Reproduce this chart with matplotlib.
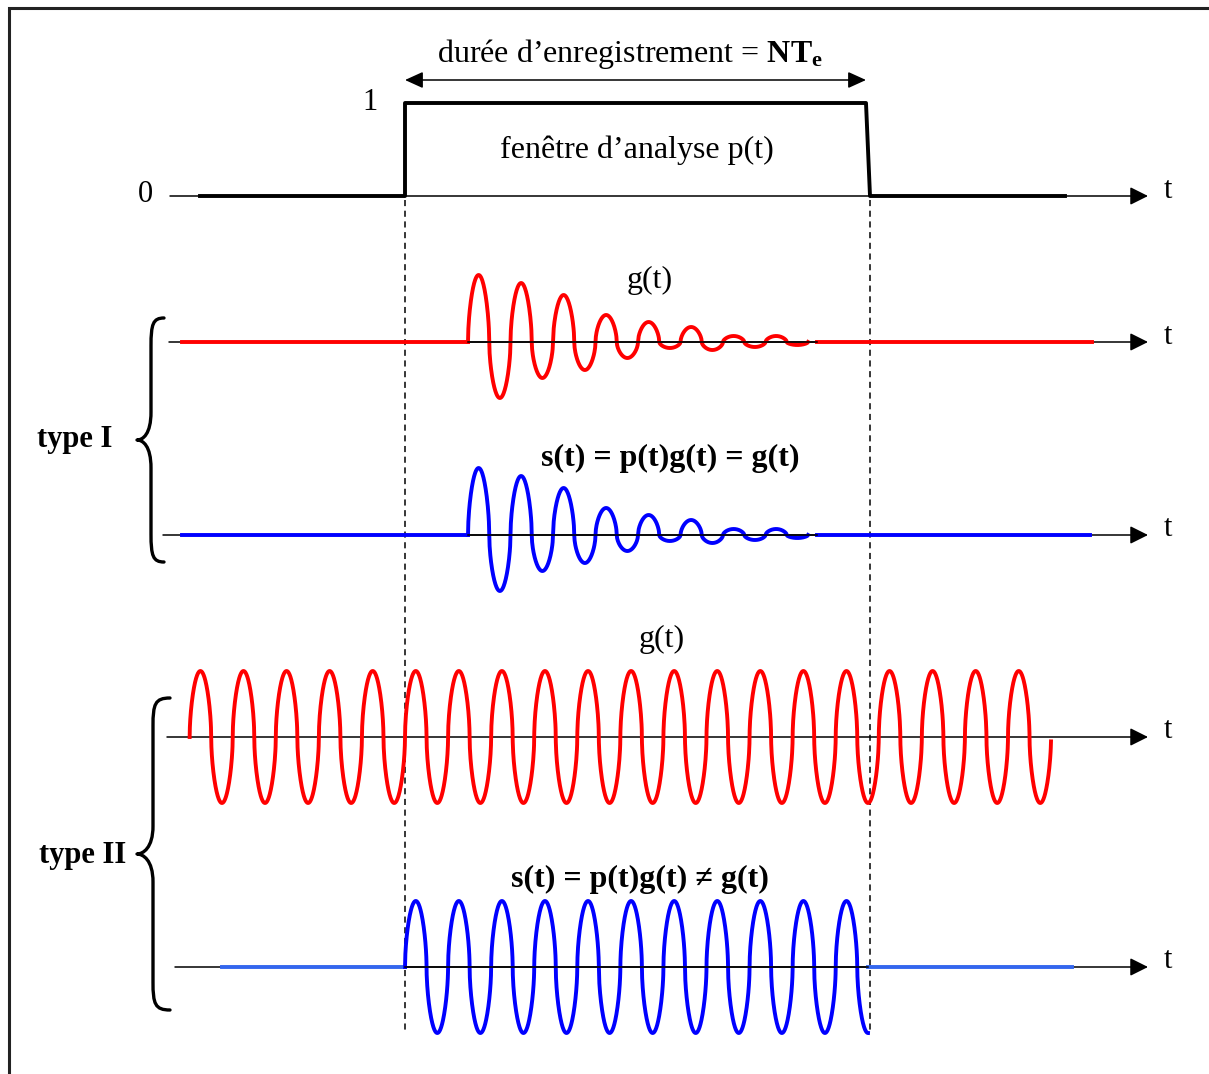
import numpy as np
import matplotlib.pyplot as plt
from matplotlib.path import Path
from matplotlib.patches import PathPatch, FancyArrowPatch

plt.rcParams["font.family"] = ["Liberation Serif", "DejaVu Serif"]
plt.rcParams["mathtext.fontset"] = "custom"
plt.rcParams["mathtext.rm"] = "Liberation Serif"
plt.rcParams["mathtext.bf"] = "Liberation Serif:bold"

W, H = 1209, 1074

# analysis window p(t): time points and levels
win_t = [200, 405, 405, 866, 870, 1065]
win_p = [0, 0, 1, 1, 0, 0]
win_height = 93

# type I: transient g(t), one extremum amplitude per half-cycle
g1_start, g1_end = 468, 817
g1_half = 21.25
g1_amp = [67, 56, 59, 36, 47, 28, 27, 16, 20, 6, 15, 8, 6, 5, 6, 3]
g1_flat_red = [(182, 468), (817, 1092)]
g1_flat_blue = [(182, 468), (817, 1090)]

# type II: permanent g(t)
g2_start, g2_end = 189.65, 1051
g2_period = 43.07
g2_amp = 66
s2_start, s2_end = 405, 868
s2_flat = [(222, 405), (868, 1072)]

# baselines of the five rows and start of their time axes
rows_y = [196, 342, 535, 737, 967]
rows_x0 = [170, 169, 163, 167, 175]
axis_end = 1148

RED = "#ff0000"
BLUE = "#0000ff"
BLUE_FLAT = "#3366ee"
LOBE = 0.55  # roundness of the hand-drawn lobes
SIG_LW = 2.8


def shape(s):
    return np.sign(s) * np.abs(s) ** LOBE


def damped(t0, half, amps, n=60):
    xs, ys = [], []
    for k, a in enumerate(amps):
        x = np.linspace(t0 + k * half, t0 + (k + 1) * half, n)
        sign = 1 if k % 2 == 0 else -1
        xs.append(x)
        ys.append(sign * a * shape(np.sin(np.pi * (x - x[0]) / half)))
    return np.concatenate(xs), np.concatenate(ys)


def brace(ax, xt, xv, xe, yt, yb, r=28):
    ym = (yt + yb) / 2
    verts = [
        (xe, yt), (xv + 2, yt), (xv, yt + 6), (xv, yt + r),
        (xv, ym - r),
        (xv, ym - 6), (xt + 6, ym), (xt, ym),
        (xt + 6, ym), (xv, ym + 6), (xv, ym + r),
        (xv, yb - r),
        (xv, yb - 6), (xv + 2, yb), (xe, yb),
    ]
    codes = [Path.MOVETO, Path.CURVE4, Path.CURVE4, Path.CURVE4, Path.LINETO,
             Path.CURVE4, Path.CURVE4, Path.CURVE4,
             Path.CURVE4, Path.CURVE4, Path.CURVE4, Path.LINETO,
             Path.CURVE4, Path.CURVE4, Path.CURVE4]
    ax.add_patch(PathPatch(Path(verts, codes), fill=False, lw=2.4, color="black",
                           capstyle="round", joinstyle="round"))


fig = plt.figure(figsize=(W / 100, H / 100), dpi=100)
ax = fig.add_axes([0, 0, 1, 1])
ax.set_xlim(0, W)
ax.set_ylim(H, 0)
ax.axis("off")

# frame
ax.plot([9, 9, W], [H, 8, 8], color="#222222", lw=2.2, solid_joinstyle="miter")

# time axes with arrows
for y, x0 in zip(rows_y, rows_x0):
    ax.add_patch(FancyArrowPatch((x0, y), (axis_end, y),
                                 arrowstyle="-|>,head_length=1.1,head_width=0.55",
                                 mutation_scale=10, color="black", lw=1.1,
                                 shrinkA=0, shrinkB=0, zorder=2))
    ax.text(1168, y - 6, "t", fontsize=22, ha="center", va="center")

# window p(t)
ax.plot(win_t, rows_y[0] - win_height * np.array(win_p), color="black", lw=2.8, zorder=3)
ax.text(145, rows_y[0] - 2, "0", fontsize=22, ha="center", va="center")
ax.text(370, rows_y[0] - win_height - 1, "1", fontsize=22, ha="center", va="center")
ax.text(637, 150, "fenêtre d’analyse p(t)", fontsize=23, ha="center", va="center")

# recording duration
ax.add_patch(FancyArrowPatch((405, 80), (866, 80),
                             arrowstyle="<|-|>,head_length=1.1,head_width=0.5",
                             mutation_scale=10, color="black", lw=1.1,
                             shrinkA=0, shrinkB=0))
ax.text(630, 54, r"durée d’enregistrement = $\mathbf{NT_e}$", fontsize=23,
        ha="center", va="center")

# window edges (dashed)
for x, yb in [(405, 1030), (870, 1032)]:
    ax.plot([x, x], [200, yb], color="black", lw=1.1, dashes=(4, 3))

# type I
xd, yd = damped(g1_start, g1_half, g1_amp)
for y0, color, flats in [(rows_y[1], RED, g1_flat_red), (rows_y[2], BLUE, g1_flat_blue)]:
    for a, b in flats:
        ax.plot([a, b], [y0, y0], color=color, lw=SIG_LW, zorder=3)
    ax.plot(xd, y0 - yd, color=color, lw=SIG_LW, zorder=3)
    ax.plot([g1_start, g1_end], [y0, y0], color="black", lw=1.1, zorder=4)

ax.text(650, 280, "g(t)", fontsize=23, ha="center", va="center")
ax.text(670, 458, "s(t) = p(t)g(t) = g(t)", fontsize=23, fontweight="bold",
        ha="center", va="center")
ax.text(75, 439, "type I", fontsize=22, fontweight="bold", ha="center", va="center")
brace(ax, 137, 151, 164, 318, 562)

# type II
x2 = np.linspace(g2_start, g2_end, 4000)
y2 = g2_amp * shape(np.sin(2 * np.pi * (x2 - g2_start) / g2_period))
ax.plot(x2, rows_y[3] - y2, color=RED, lw=SIG_LW, zorder=3)

xs = np.linspace(s2_start, s2_end, 2500)
ys = g2_amp * shape(np.sin(2 * np.pi * (xs - g2_start) / g2_period))
for a, b in s2_flat:
    ax.plot([a, b], [rows_y[4], rows_y[4]], color=BLUE_FLAT, lw=SIG_LW, zorder=3)
ax.plot(xs, rows_y[4] - ys, color=BLUE, lw=SIG_LW, zorder=3)
ax.plot([s2_start, s2_end], [rows_y[4], rows_y[4]], color="black", lw=1.1, zorder=4)

ax.text(662, 639, "g(t)", fontsize=23, ha="center", va="center")
ax.text(640, 879, "s(t) = p(t)g(t) ≠ g(t)", fontsize=23, fontweight="bold",
        ha="center", va="center")
ax.text(83, 856, "type II", fontsize=22, fontweight="bold", ha="center", va="center")
brace(ax, 137, 153, 170, 698, 1010)

fig.savefig("out.png", dpi=100)
